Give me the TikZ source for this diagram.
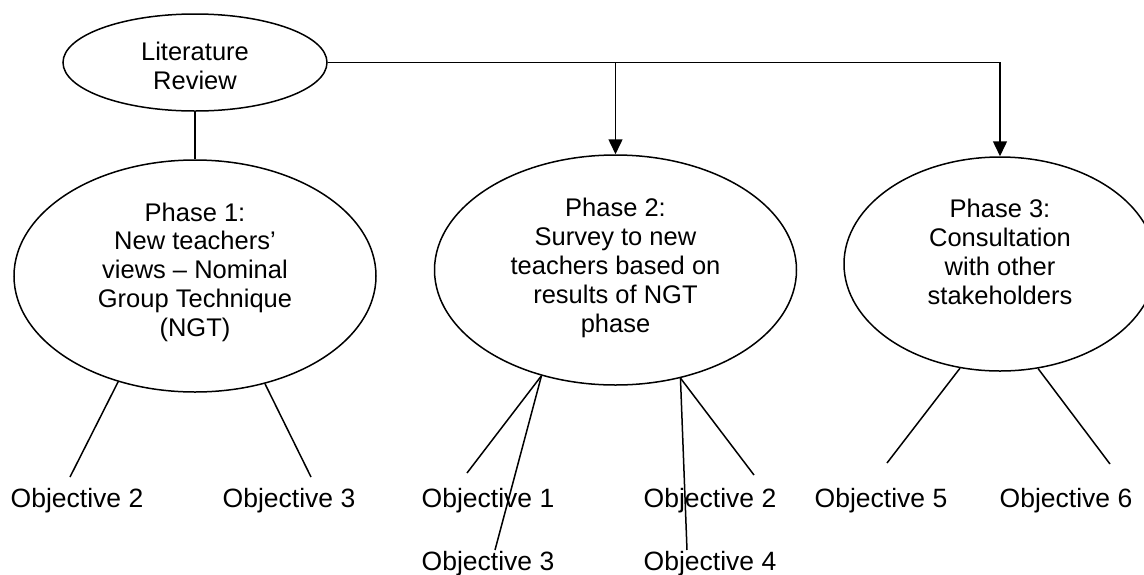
\documentclass[tikz,border=0pt]{standalone}
\usepackage{fontspec}
\setmainfont{Liberation Sans}
\usetikzlibrary{shapes.geometric,arrows.meta}
\begin{document}
\begin{tikzpicture}[x=1pt,y=-1pt,line width=1.5pt,
  oval/.style={draw,ellipse,inner sep=0pt},
  ptext/.style={align=center,font=\fontsize{25.5}{28.8}\selectfont,inner sep=0pt},
  obj/.style={anchor=base,font=\fontsize{26.5}{30}\selectfont,inner sep=0pt},
  arr/.style={-{Triangle[width=14pt,length=15pt]}}]
\useasboundingbox (0,0) rectangle (1144,574);
% ellipses
\node[oval,minimum width=264pt,minimum height=97pt] (lr) at (195,62.5) {};
\node[ptext] (lrt) at (195,66) {Literature\\Review};
\node[oval,minimum width=362pt,minimum height=232pt] (p1) at (195,276) {};
\node[ptext] (p1t) at (195,272) {Phase 1:\\New teachers’\\views – Nominal\\Group Technique\\(NGT)};
\node[oval,minimum width=362pt,minimum height=230pt] (p2) at (615.5,270) {};
\node[ptext] (p2t) at (615.5,268) {Phase 2:\\Survey to new\\teachers based on\\results of NGT\\phase};
\node[oval,minimum width=312pt,minimum height=214pt] (p3) at (1000,264) {};
\node[ptext] (p3t) at (1000,252) {Phase 3:\\Consultation\\with other\\stakeholders};
% objectives
\node[obj] (o12) at (77,507) {Objective 2};
\node[obj] (o13) at (289,507) {Objective 3};
\node[obj] (o21) at (488,507) {Objective 1};
\node[obj] (o22) at (710,507) {Objective 2};
\node[obj] (o23) at (488,570) {Objective 3};
\node[obj] (o24) at (710,570) {Objective 4};
\node[obj] (o35) at (881,507) {Objective 5};
\node[obj] (o36) at (1066,507) {Objective 6};
% line ends
\coordinate (e12) at (70,477);
\coordinate (e13) at (311,477);
\coordinate (e21) at (467,473);
\coordinate (e23) at (495,550);
\coordinate (e22) at (754,475);
\coordinate (e24) at (687,550);
\coordinate (e35) at (887,463);
\coordinate (e36) at (1110,464);
% connectors
\draw (lr.south) -- (p1.north);
\draw[arr] (lr.east) -| (p3.north);
\draw[arr] (lr.east -| p2.north) -- (p2.north);
\draw (p1.234) -- (e12);
\draw (p1.303) -- (e13);
\draw (p2.235) -- (e21);
\draw (p2.235) -- (e23);
\draw (p2.301) -- (e22);
\draw (p2.301) -- (e24);
\draw (p3.249) -- (e35);
\draw (p3.290) -- (e36);
\end{tikzpicture}
\end{document}
